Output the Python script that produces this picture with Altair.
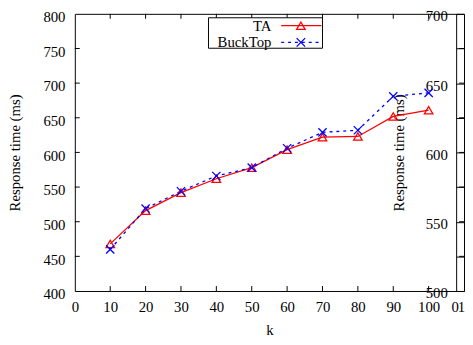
import altair as alt
import pandas as pd

# ---- data ----
k_values = [10, 20, 30, 40, 50, 60, 70, 80, 90, 100]
ta_values = [468, 516, 542, 562, 578, 604, 622, 623, 652, 661]
bucktop_values = [460, 519, 544, 566, 578, 606, 629, 632, 681, 686]
series_names = ["TA", "BuckTop"]
series_colors = ["#ff0000", "#0000ff"]
x_tick_values = [0, 10, 20, 30, 40, 50, 60, 70, 80, 90, 100]
left_tick_values = [400, 450, 500, 550, 600, 650, 700, 750, 800]
right_tick_values = [500, 525, 550, 575, 600, 625, 650, 675, 700]
second_panel_x_labels = ["0", "1"]

W, H = 396, 282
FONT = "Liberation Serif"
FS = 15
CROSS = "M-1,-1L1,1M-1,1L1,-1"

df = pd.DataFrame({
    "k": k_values * 2,
    "time": ta_values + bucktop_values,
    "series": [series_names[0]] * len(k_values) + [series_names[1]] * len(k_values),
})

xscale = alt.Scale(domain=[0, 110], nice=False, zero=False)
yscale = alt.Scale(domain=[400, 800], nice=False, zero=False)

x_axis = alt.Axis(values=x_tick_values, title="k", ticks=False, domain=False, grid=False,
                  labelPadding=9, labelFlush=False, labelOverlap=False, format="d",
                  titleY=39, titleBaseline="middle")
y_axis = alt.Axis(values=left_tick_values, title="Response time (ms)", ticks=False, domain=False,
                  grid=False, labelPadding=10, labelOffset=3, labelFlush=False, labelOverlap=False,
                  format="d", titleX=-61, titleY=H / 2, titleAngle=270, titleBaseline="middle",
                  titleAlign="center")

X = alt.X("k:Q", scale=xscale, axis=x_axis)
Y = alt.Y("time:Q", scale=yscale, axis=y_axis)

base = alt.Chart(df)
ta = base.transform_filter(alt.datum.series == series_names[0])
bt = base.transform_filter(alt.datum.series == series_names[1])

ta_line = ta.mark_line(color=series_colors[0], strokeWidth=1.3).encode(x=X, y=Y)
ta_pts = ta.mark_point(shape="triangle-up", filled=False, color=series_colors[0], size=75,
                       strokeWidth=1.3, opacity=1).encode(x=X, y=Y)
bt_line = bt.mark_line(color=series_colors[1], strokeWidth=1.3, strokeDash=[3, 4]).encode(x=X, y=Y)
bt_pts = bt.mark_point(shape=CROSS, filled=False, color=series_colors[1], size=70,
                       strokeWidth=1.3, opacity=1).encode(x=X, y=Y)

# inward ticks (gnuplot style)
xt = alt.Chart(pd.DataFrame({"k": x_tick_values[1:]}))
yt = alt.Chart(pd.DataFrame({"time": left_tick_values[1:-1]}))
tick_bottom = xt.mark_rule(color="black").encode(x=X, y=alt.value(H), y2=alt.value(H - 5))
tick_top = xt.mark_rule(color="black").encode(x=X, y=alt.value(0), y2=alt.value(5))
tick_left = yt.mark_rule(color="black").encode(y=Y, x=alt.value(0), x2=alt.value(5))
tick_right = yt.mark_rule(color="black").encode(y=Y, x=alt.value(W), x2=alt.value(W - 5))

# legend (gnuplot style: text then sample)
legend_layers = []
box = alt.Chart(pd.DataFrame({"a": [0]})).mark_rect(fill="white", stroke="black", strokeWidth=1).encode(
    x=alt.value(136), x2=alt.value(252), y=alt.value(4), y2=alt.value(35))
legend_layers.append(box)
shapes = ["triangle-up", CROSS]
dashes = [[1, 0], [3, 4]]
for i, (name, col) in enumerate(zip(series_names, series_colors)):
    yy = 12 + i * 17
    d = alt.Chart(pd.DataFrame({"label": [name]}))
    legend_layers.append(d.mark_text(align="right", baseline="middle", font=FONT, fontSize=FS,
                                     color="black").encode(text="label:N", x=alt.value(200), y=alt.value(yy)))
    legend_layers.append(d.mark_rule(color=col, strokeWidth=1.3, strokeDash=dashes[i]).encode(
        x=alt.value(210), x2=alt.value(251), y=alt.value(yy)))
    legend_layers.append(d.mark_point(shape=shapes[i], filled=False, color=col, size=75,
                                      strokeWidth=1.3, opacity=1).encode(x=alt.value(230), y=alt.value(yy)))

# x labels of the overlapping second panel (cut off at the right edge)
sp_layers = []
for j, lab in enumerate(second_panel_x_labels):
    sp_layers.append(alt.Chart(pd.DataFrame({"label": [lab]})).mark_text(
        align="center", baseline="middle", font=FONT, fontSize=FS, color="black").encode(
        text="label:N", x=alt.value(387 + 6.5 * j), y=alt.value(H + 16)))

main = alt.layer(tick_bottom, tick_top, tick_left, tick_right,
                 ta_line, bt_line, ta_pts, bt_pts, *legend_layers, *sp_layers)

# overlapping second panel's axis (500-700)
second = alt.Chart(pd.DataFrame({"v": right_tick_values})).mark_point(opacity=0).encode(
    x=alt.value(0),
    y=alt.Y("v:Q", scale=alt.Scale(domain=[500, 700], nice=False, zero=False),
            axis=alt.Axis(orient="right", offset=-8, values=right_tick_values, tickSize=8,
                          tickColor="black", domainColor="black", grid=False,
                          labelExpr="datum.value % 50 == 0 ? datum.label : ''",
                          labelAlign="right", labelPadding=-17, labelOffset=2,
                          labelFlush=False, labelOverlap=False,
                          title="Response time (ms)", titleX=-59, titleY=H / 2, titleAngle=270,
                          titleBaseline="middle", titleAlign="center")),
)

chart = alt.layer(main, second).resolve_scale(y="independent").properties(
    width=W, height=H,
    autosize=alt.AutoSizeParams(type="none"),
    padding={"left": 68, "top": 3, "right": 1, "bottom": 52},
).configure_view(stroke="black", strokeWidth=1).configure_axis(
    labelFont=FONT, titleFont=FONT, labelFontSize=FS, titleFontSize=FS,
    labelColor="black", titleColor="black", titleFontWeight="normal",
    domainColor="black", tickColor="black",
)

chart.save("out.html", embed_options={"renderer": "svg", "actions": False})
